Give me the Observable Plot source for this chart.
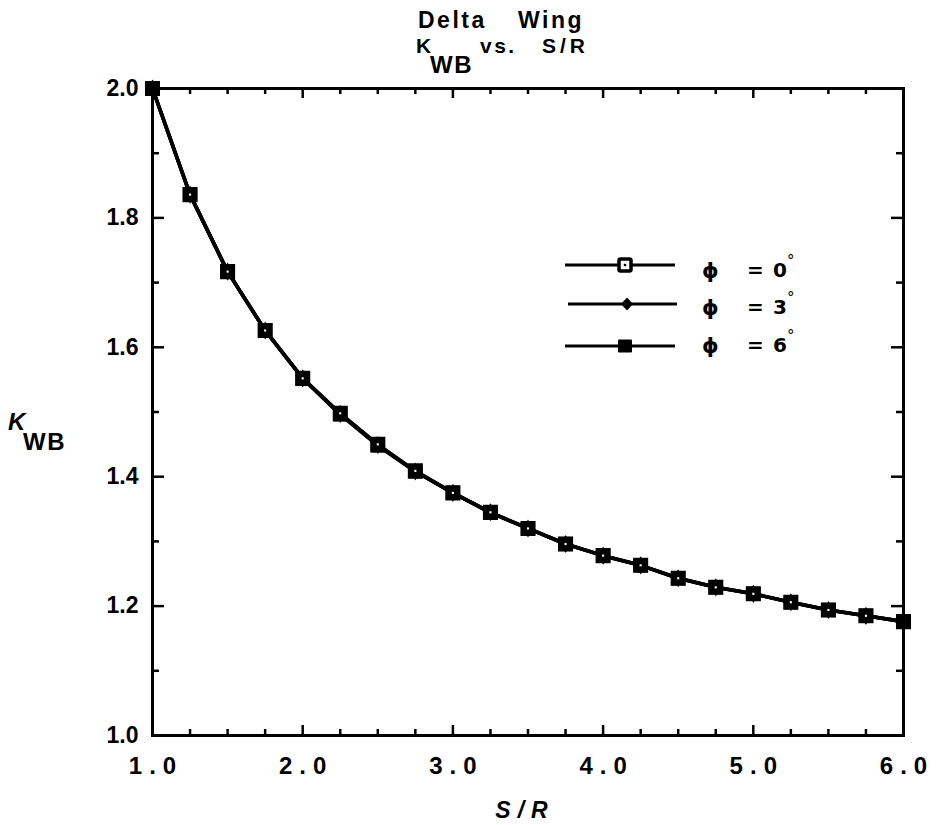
<!DOCTYPE html>
<html><head><meta charset="utf-8">
<script src="https://cdn.jsdelivr.net/npm/d3@7"></script>
<script src="https://cdn.jsdelivr.net/npm/@observablehq/plot@0.6"></script>
<style>
html,body{margin:0;padding:0;background:#fff;}
#wrap{position:relative;width:936px;height:825px;overflow:hidden;}
#wrap > svg{position:absolute;left:0;top:0;}
g[aria-label="x-axis tick label"] text{letter-spacing:7px;}
</style></head><body><div id="wrap"></div>
<script>
// ---- data ----
const sr = [1.0, 1.25, 1.5, 1.75, 2.0, 2.25, 2.5, 2.75, 3.0, 3.25, 3.5, 3.75, 4.0, 4.25, 4.5, 4.75, 5.0, 5.25, 5.5, 5.75, 6.0];
const kwbPhi0 = [2.000, 1.836, 1.717, 1.626, 1.552, 1.498, 1.450, 1.409, 1.375, 1.345, 1.320, 1.296, 1.278, 1.263, 1.243, 1.229, 1.219, 1.206, 1.194, 1.185, 1.176];
const kwbPhi3 = [2.000, 1.836, 1.717, 1.626, 1.552, 1.497, 1.449, 1.408, 1.375, 1.345, 1.320, 1.296, 1.278, 1.263, 1.243, 1.229, 1.219, 1.206, 1.194, 1.185, 1.176];
const kwbPhi6 = [2.000, 1.836, 1.717, 1.626, 1.552, 1.496, 1.448, 1.408, 1.375, 1.344, 1.320, 1.296, 1.278, 1.263, 1.243, 1.229, 1.219, 1.206, 1.194, 1.185, 1.176];
const xMajorTicks = [1, 2, 3, 4, 5, 6];
const xMinorTicks = [1.25, 1.5, 1.75, 2.25, 2.5, 2.75, 3.25, 3.5, 3.75, 4.25, 4.5, 4.75, 5.25, 5.5, 5.75];
const xTickLabels = ["1.0", "2.0", "3.0", "4.0", "5.0", "6.0"];
const yMajorTicks = [1.0, 1.2, 1.4, 1.6, 1.8, 2.0];
const yMinorTicks = [1.1, 1.3, 1.5, 1.7, 1.9];
const yTickLabels = ["1.0", "1.2", "1.4", "1.6", "1.8", "2.0"];
const legendAngles = ["0", "3", "6"];

// ---- layout ----
const W = 936, H = 825, mL = 152, mR = 33, mT = 88, mB = 90;
const pw = W - mL - mR, ph = H - mT - mB;
const FONT = "'Liberation Sans', Arial, Helvetica, sans-serif";
const toRows = ys => sr.map((x, i) => ({sr: x, k: ys[i]}));
const d0 = toRows(kwbPhi0), d3r = toRows(kwbPhi3), d6 = toRows(kwbPhi6);
const tk = {stroke: "black", strokeWidth: 2.5};

const chart = Plot.plot({
  width: W, height: H,
  marginLeft: mL, marginRight: mR, marginTop: mT, marginBottom: mB,
  x: {domain: [1, 6], label: null},
  y: {domain: [1, 2], label: null},
  style: {fontFamily: FONT, background: "white", color: "black", overflow: "visible"},
  marks: [
    // inward ticks on all four sides
    Plot.tickY(yMinorTicks, {y: d => d, insetRight: pw - 7, ...tk}),
    Plot.tickY(yMajorTicks, {y: d => d, insetRight: pw - 12, ...tk}),
    Plot.tickY(yMinorTicks, {y: d => d, insetLeft: pw - 7, ...tk}),
    Plot.tickY(yMajorTicks, {y: d => d, insetLeft: pw - 12, ...tk}),
    Plot.tickX(xMinorTicks, {x: d => d, insetTop: ph - 6, ...tk}),
    Plot.tickX(xMajorTicks, {x: d => d, insetTop: ph - 10, ...tk}),
    Plot.tickX(xMinorTicks, {x: d => d, insetBottom: ph - 6, ...tk}),
    Plot.tickX(xMajorTicks, {x: d => d, insetBottom: ph - 10, ...tk}),
    Plot.axisY(yMajorTicks, {tickSize: 0, tickPadding: 14, label: null,
      tickFormat: d => yTickLabels[yMajorTicks.indexOf(d)], fontSize: 23, fontWeight: "bold"}),
    Plot.axisX(xMajorTicks, {tickSize: 0, tickPadding: 21, label: null, dx: 3.5,
      tickFormat: d => xTickLabels[xMajorTicks.indexOf(d)], fontSize: 24, fontWeight: "bold"}),
    Plot.line(d0, {x: "sr", y: "k", stroke: "black", strokeWidth: 3.6}),
    Plot.line(d3r, {x: "sr", y: "k", stroke: "black", strokeWidth: 3.6}),
    Plot.line(d6, {x: "sr", y: "k", stroke: "black", strokeWidth: 3.6}),
    Plot.dot(d0, {x: "sr", y: "k", symbol: "square", r: 6.8, fill: "white", stroke: "black", strokeWidth: 3}),
    Plot.dot(d3r, {x: "sr", y: "k", symbol: "diamond", r: 5.5, fill: "black"}),
    Plot.dot(d6, {x: "sr", y: "k", symbol: "square", r: 8, fill: "black"}),
    Plot.dot(d0, {x: "sr", y: "k", symbol: "square", r: 1.2, fill: "white"}),
    Plot.frame({stroke: "black", strokeWidth: 3})
  ]
});
const wrap = document.getElementById("wrap");
wrap.appendChild(chart);

// ---- overlay: title, axis labels, legend ----
const ov = d3.create("svg").attr("width", W).attr("height", H)
  .attr("style", `font-family:${FONT};font-weight:bold;fill:black;overflow:visible`);

// title
const t1 = ov.append("text").attr("y", 28).attr("font-size", 23).attr("letter-spacing", 2.5);
t1.append("tspan").attr("x", 418).text("Delta");
t1.append("tspan").attr("x", 518).text("Wing");
ov.append("text").attr("x", 416).attr("y", 53).attr("font-size", 21).text("K");
ov.append("text").attr("x", 430).attr("y", 73).attr("font-size", 24).attr("letter-spacing", 1.5).text("WB");
ov.append("text").attr("x", 480).attr("y", 53).attr("font-size", 21).attr("letter-spacing", 2.5).text("vs.");
ov.append("text").attr("x", 542).attr("y", 53).attr("font-size", 21).attr("letter-spacing", 4).text("S/R");

// y-axis label
ov.append("text").attr("x", 8).attr("y", 430).attr("font-size", 24).attr("font-style", "italic").text("K");
ov.append("text").attr("x", 23).attr("y", 450).attr("font-size", 24).attr("letter-spacing", 1.5).text("WB");

// x-axis label
ov.append("text").attr("x", 525).attr("y", 818).attr("font-size", 23).attr("font-style", "italic")
  .attr("letter-spacing", 7).attr("text-anchor", "middle").text("S/R");

// legend
const rowsY = [265, 304, 346];
const lineX = [[565, 675], [568, 677], [565, 675]];
const markX = [625, 627, 625];
const baseY = [278, 315, 353];
legendAngles.forEach((a, i) => {
  const y = rowsY[i];
  ov.append("line").attr("x1", lineX[i][0]).attr("x2", lineX[i][1]).attr("y1", y).attr("y2", y)
    .attr("stroke", "black").attr("stroke-width", 3);
  const mx = markX[i];
  if (i === 0) {
    ov.append("rect").attr("x", mx - 6).attr("y", y - 6).attr("width", 12).attr("height", 12)
      .attr("fill", "white").attr("stroke", "black").attr("stroke-width", 3.5).attr("rx", 1.5);
    ov.append("rect").attr("x", mx - 1.2).attr("y", y - 1.2).attr("width", 2.4).attr("height", 2.4).attr("fill", "black");
  } else if (i === 1) {
    ov.append("path").attr("d", `M${mx},${y - 6.5}L${mx + 6},${y}L${mx},${y + 6.5}L${mx - 6},${y}Z`).attr("fill", "black");
  } else {
    ov.append("rect").attr("x", mx - 7).attr("y", y - 6.5).attr("width", 14).attr("height", 13).attr("fill", "black").attr("rx", 1);
  }
  const by = baseY[i];
  ov.append("text").attr("x", 702).attr("y", by).attr("font-size", 21)
    .attr("font-family", "'DejaVu Sans', sans-serif").text("ϕ");
  const tx = ov.append("text").attr("y", by - 1).attr("font-size", 20).attr("font-family", "'DejaVu Sans', sans-serif");
  tx.append("tspan").attr("x", 747).text("=");
  tx.append("tspan").attr("x", 773).text(a);
  tx.append("tspan").attr("dx", 0).attr("dy", -11).attr("font-size", 15).attr("font-weight", "normal").text("°");
});

wrap.appendChild(ov.node());
</script>
</body></html>
